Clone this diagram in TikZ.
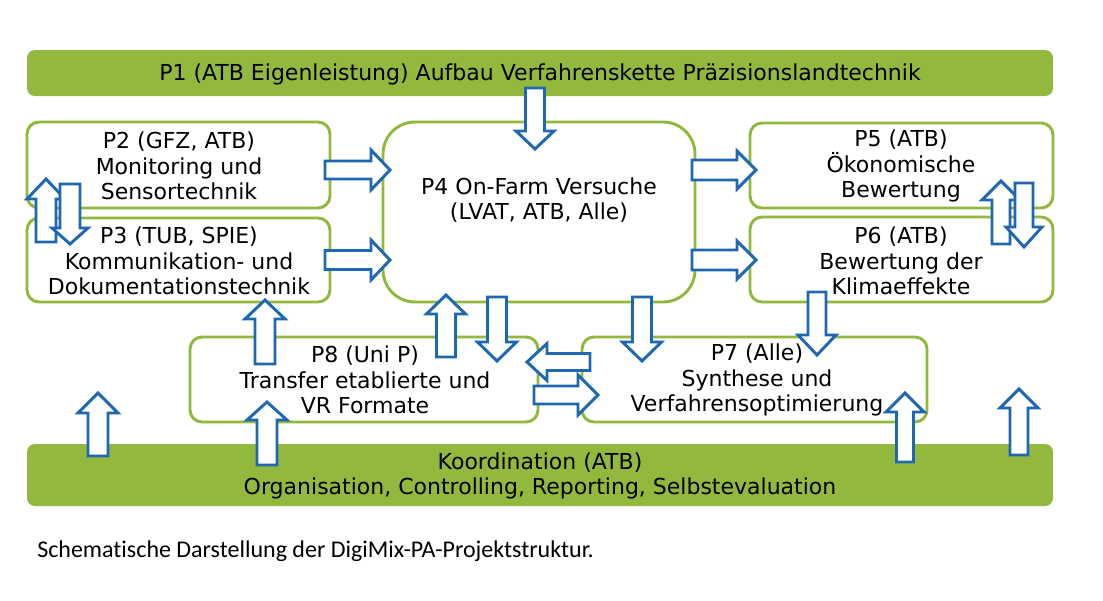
\documentclass[tikz,border=0pt]{standalone}
\usepackage{fontspec}
\setmainfont{DejaVu Sans}
\newfontfamily\capfont[Ligatures=NoCommon]{Carlito}
\usetikzlibrary{fit}
\definecolor{lgreen}{RGB}{146,184,62}
\definecolor{lblue}{RGB}{30,104,178}
\tikzset{
  bar/.style={fill=lgreen, draw=none, rounded corners=6pt, inner sep=0pt},
  pbox/.style={draw=lgreen, line width=2.2pt, fill=white, rounded corners=9pt, inner sep=0pt},
  bigbox/.style={pbox, rounded corners=24pt},
  txt/.style={align=center, font=\fontsize{16.5}{19.2}\selectfont, inner sep=0pt},
  barrow/.style={draw=lblue, fill=white, line width=2.2pt, line join=miter},
}
% vertical block arrow: cx, tail y, head-base y, tip y, shaft half width, head half width
\newcommand\vblock[6]{\draw[barrow] ({#1-#5},#2) -- ({#1-#5},#3) -- ({#1-#6},#3) -- (#1,#4) -- ({#1+#6},#3) -- ({#1+#5},#3) -- ({#1+#5},#2) -- cycle;}
% horizontal block arrow: cy, tail x, head-base x, tip x, shaft half width, head half width
\newcommand\hblock[6]{\draw[barrow] (#2,{#1-#5}) -- (#3,{#1-#5}) -- (#3,{#1-#6}) -- (#4,#1) -- (#3,{#1+#6}) -- (#3,{#1+#5}) -- (#2,{#1+#5}) -- cycle;}
\begin{document}
\begin{tikzpicture}[x=0.75pt,y=-0.75pt]
\fill[white] (0,0) rectangle (1103,600);
\useasboundingbox (0,0) rectangle (1103,600);
% bars
\node[bar, fit={(27,50) (1053,96)}] (p1) {};
\node[bar, fit={(27,444) (1053,506)}] (koord) {};
% boxes
\node[pbox, fit={(27,122) (330,208)}] (p2) {};
\node[pbox, fit={(27,218) (330,302)}] (p3) {};
\node[bigbox, fit={(383,122) (695,302)}] (p4) {};
\node[pbox, fit={(750,123) (1053,208)}] (p5) {};
\node[pbox, fit={(750,217) (1053,302)}] (p6) {};
\node[pbox, fit={(190,337) (538,422)}] (p8) {};
\node[pbox, fit={(582,337) (927,422)}] (p7) {};
% texts
\node[txt] (t1) at (540,74) {P1 (ATB Eigenleistung) Aufbau Verfahrenskette Präzisionslandtechnik};
\node[txt] (t2) at (179,166) {P2 (GFZ, ATB)\\Monitoring und\\Sensortechnik};
\node[txt] (t3) at (179,261) {P3 (TUB, SPIE)\\Kommunikation- und\\Dokumentationstechnik};
\node[txt] (t4) at (539,200) {P4 On-Farm Versuche\\(LVAT, ATB, Alle)};
\node[txt] (t5) at (901,166) {P5 (ATB)\\Ökonomische\\Bewertung};
\node[txt] (t6) at (901,261) {P6 (ATB)\\Bewertung der\\Klimaeffekte};
\node[txt] (t8) at (365,380) {P8 (Uni P)\\Transfer etablierte und\\VR Formate};
\node[txt] (t7) at (757,380) {P7 (Alle)\\Synthese und\\Verfahrensoptimierung};
\node[txt] (tk) at (540,476) {Koordination (ATB)\\Organisation, Controlling, Reporting, Selbstevaluation};
\node[anchor=west, inner sep=0pt, font=\capfont\fontsize{18}{21}\selectfont] (cap) at (37,551) {Schematische Darstellung der DigiMix-PA-Projektstruktur.};
% block arrows
\vblock{535}{88}{131}{149}{9.5}{19}
\hblock{170}{325}{371}{390}{9}{20}
\hblock{260}{325}{371}{390}{9.5}{20}
\vblock{46}{242}{199}{179}{10}{19}
\vblock{70}{184}{228}{244}{10}{18}
\hblock{170}{692}{737}{756}{10}{19}
\hblock{260}{692}{737}{756}{10}{19}
\vblock{1001}{244}{200}{181}{9}{19}
\vblock{1024}{183}{227}{247}{9}{18}
\vblock{817}{292}{335}{355}{9}{19}
\vblock{905}{462}{412}{393}{8.5}{19}
\vblock{1019}{455}{408}{389}{9}{19}
\vblock{446}{357}{314}{295}{9.5}{19.5}
\vblock{497}{297}{342}{361}{9.5}{19.5}
\vblock{642}{297}{342}{361}{9.5}{19.5}
\hblock{362}{590}{547}{527}{8.5}{18.5}
\hblock{395}{534}{578}{598}{9}{20}
\vblock{265}{364}{319}{300}{10}{20}
\vblock{267}{465}{420}{402}{10}{20}
\vblock{98}{456}{413}{393}{10}{20}
\end{tikzpicture}
\end{document}
